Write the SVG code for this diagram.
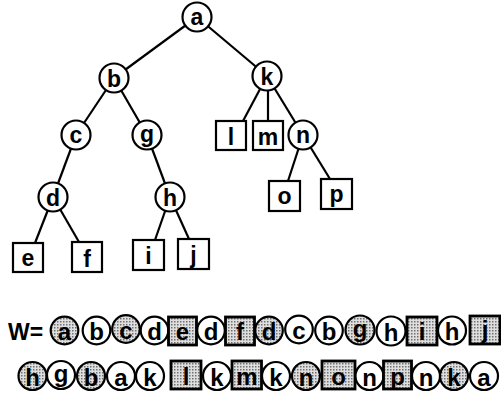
<svg xmlns="http://www.w3.org/2000/svg" width="501" height="400" viewBox="0 0 501 400">
  <defs>
    <!-- stipple screen used for the highlighted items of the walk -->
    <pattern id="dots" width="3" height="3" patternUnits="userSpaceOnUse">
      <rect width="3" height="3" fill="#dedede"/>
      <rect width="1.5" height="1.5" fill="#707070"/>
    </pattern>
  </defs>
  <style>
    .edge { stroke: #000; stroke-width: 2.2; fill: none; }
    .node { fill: #fff; stroke: #000; stroke-width: 2.2; }
    .lbl { font-family: "Liberation Sans", Arial, sans-serif; font-weight: bold; font-size: 23px; text-anchor: middle; fill: #000; }
    .w { fill: #fff; stroke: #000; stroke-width: 2.2; }
    .s { fill: url(#dots); stroke: #000; stroke-width: 2.2; }
    .sb { fill: url(#dots); stroke: #000; stroke-width: 2.8; }
    .wl { font-family: "Liberation Sans", Arial, sans-serif; font-weight: bold; font-size: 24px; text-anchor: middle; fill: #000; }
    .head { font-family: "Liberation Sans", Arial, sans-serif; font-weight: bold; font-size: 23px; fill: #000; }
  </style>

  <!-- tree edges -->
  <g id="connectors">
    <line class="edge" x1="197" y1="17" x2="114" y2="78"/>
    <line class="edge" x1="197" y1="17" x2="267" y2="76"/>
    <line class="edge" x1="114" y1="78" x2="76" y2="135"/>
    <line class="edge" x1="114" y1="78" x2="147" y2="135"/>
    <line class="edge" x1="76" y1="135" x2="53" y2="197"/>
    <line class="edge" x1="147" y1="135" x2="170" y2="197"/>
    <line class="edge" x1="53" y1="197" x2="35" y2="243"/>
    <line class="edge" x1="53" y1="197" x2="79" y2="242"/>
    <line class="edge" x1="170" y1="197" x2="155" y2="240"/>
    <line class="edge" x1="170" y1="197" x2="189" y2="239"/>
    <line class="edge" x1="267" y1="76" x2="243" y2="121"/>
    <line class="edge" x1="268" y1="76" x2="268" y2="121"/>
    <line class="edge" x1="267" y1="76" x2="303" y2="135"/>
    <line class="edge" x1="303" y1="135" x2="288" y2="181"/>
    <line class="edge" x1="303" y1="135" x2="330" y2="179"/>
  </g>

  <!-- inner nodes -->
  <g id="node-a"><circle class="node" cx="197" cy="17" r="14.5"/><text class="lbl" x="197" y="25">a</text></g>
  <g id="node-b"><circle class="node" cx="114" cy="78" r="14.5"/><text class="lbl" x="114" y="86.5">b</text></g>
  <g id="node-k"><circle class="node" cx="267" cy="76" r="14.5"/><text class="lbl" x="267" y="84.5">k</text></g>
  <g id="node-c"><circle class="node" cx="76" cy="135" r="14.5"/><text class="lbl" x="76" y="143">c</text></g>
  <g id="node-g"><circle class="node" cx="147" cy="135" r="14.5"/><text class="lbl" x="147" y="141.5">g</text></g>
  <g id="node-n"><circle class="node" cx="303" cy="135" r="14.5"/><text class="lbl" x="303" y="143">n</text></g>
  <g id="node-d"><circle class="node" cx="53" cy="197" r="14.5"/><text class="lbl" x="53" y="205.5">d</text></g>
  <g id="node-h"><circle class="node" cx="170" cy="197" r="14.5"/><text class="lbl" x="170" y="205.5">h</text></g>

  <!-- leaves -->
  <g id="node-l"><rect class="node" x="216" y="121" width="30" height="29"/><text class="lbl" x="231" y="145">l</text></g>
  <g id="node-m"><rect class="node" x="253" y="121" width="30" height="29"/><text class="lbl" x="268" y="145">m</text></g>
  <g id="node-e"><rect class="node" x="13" y="243" width="30" height="29"/><text class="lbl" x="28" y="266">e</text></g>
  <g id="node-f"><rect class="node" x="72" y="242" width="30" height="30"/><text class="lbl" x="87" y="267">f</text></g>
  <g id="node-i"><rect class="node" x="133" y="240" width="31" height="30"/><text class="lbl" x="148.5" y="264">i</text></g>
  <g id="node-j"><rect class="node" x="178" y="239" width="31" height="30"/><text class="lbl" x="193.5" y="263">j</text></g>
  <g id="node-o"><rect class="node" x="269" y="181" width="31" height="30"/><text class="lbl" x="284.5" y="204">o</text></g>
  <g id="node-p"><rect class="node" x="321" y="179" width="31" height="30"/><text class="lbl" x="336.5" y="202">p</text></g>

  <!-- walk sequence W -->
  <g id="walk">
    <text class="head" x="8" y="340">W=</text>
    <g id="w1">
      <circle class="s" cx="64.5" cy="330.5" r="13.8"/><text class="wl" x="64.5" y="340">a</text>
      <circle class="w" cx="96.5" cy="330.5" r="13.8"/><text class="wl" x="96.5" y="340">b</text>
      <circle class="s" cx="126" cy="329" r="13.8"/><text class="wl" x="126" y="338.5">c</text>
      <circle class="w" cx="154.5" cy="330.5" r="13.8"/><text class="wl" x="154.5" y="340">d</text>
      <rect class="sb" x="168.5" y="317" width="28" height="28"/><text class="wl" x="182.5" y="340">e</text>
      <circle class="w" cx="211" cy="330.5" r="13.8"/><text class="wl" x="211" y="340">d</text>
      <rect class="sb" x="225.5" y="317" width="29" height="28"/><text class="wl" x="240" y="340">f</text>
      <circle class="s" cx="269" cy="330.5" r="13.8"/><text class="wl" x="269" y="340">d</text>
      <circle class="w" cx="299" cy="329.5" r="13.8"/><text class="wl" x="299" y="339">c</text>
      <circle class="w" cx="329" cy="330.5" r="13.8"/><text class="wl" x="329" y="340">b</text>
      <circle class="s" cx="360" cy="330" r="14.5"/><text class="wl" x="360" y="337">g</text>
      <circle class="w" cx="391" cy="331" r="14.5"/><text class="wl" x="391" y="341">h</text>
      <rect class="sb" x="407" y="317" width="30" height="28"/><text class="wl" x="422" y="340">i</text>
      <circle class="w" cx="452" cy="330.5" r="14"/><text class="wl" x="452" y="340">h</text>
      <rect class="sb" x="470" y="316" width="30" height="28"/><text class="wl" x="485" y="338">j</text>
    </g>
    <g id="w2">
      <circle class="s" cx="32.5" cy="376" r="14"/><text class="wl" x="32.5" y="385.5">h</text>
      <circle class="w" cx="61" cy="375" r="14"/><text class="wl" x="61" y="382">g</text>
      <circle class="s" cx="91" cy="376" r="14"/><text class="wl" x="91" y="385.5">b</text>
      <circle class="w" cx="121" cy="376" r="14"/><text class="wl" x="121" y="385.5">a</text>
      <circle class="w" cx="150" cy="376" r="14"/><text class="wl" x="150" y="385.5">k</text>
      <rect class="sb" x="171" y="361" width="30" height="28"/><text class="wl" x="186" y="385">l</text>
      <circle class="w" cx="217" cy="376" r="14"/><text class="wl" x="217" y="385.5">k</text>
      <rect class="sb" x="232" y="361" width="29.5" height="28"/><text class="wl" x="246.8" y="385">m</text>
      <circle class="w" cx="276" cy="376" r="14"/><text class="wl" x="276" y="385.5">k</text>
      <circle class="s" cx="306" cy="376" r="14"/><text class="wl" x="306" y="385.5">n</text>
      <rect class="sb" x="322" y="361" width="33" height="28"/><text class="wl" x="338.5" y="385">o</text>
      <circle class="w" cx="369.5" cy="376" r="14"/><text class="wl" x="369.5" y="385.5">n</text>
      <rect class="sb" x="383.5" y="361" width="28" height="28"/><text class="wl" x="397.5" y="385">p</text>
      <circle class="w" cx="426" cy="376" r="14"/><text class="wl" x="426" y="385.5">n</text>
      <circle class="s" cx="454" cy="376" r="14"/><text class="wl" x="454" y="385.5">k</text>
      <circle class="w" cx="484" cy="376" r="14"/><text class="wl" x="484" y="385.5">a</text>
    </g>
  </g>
</svg>
